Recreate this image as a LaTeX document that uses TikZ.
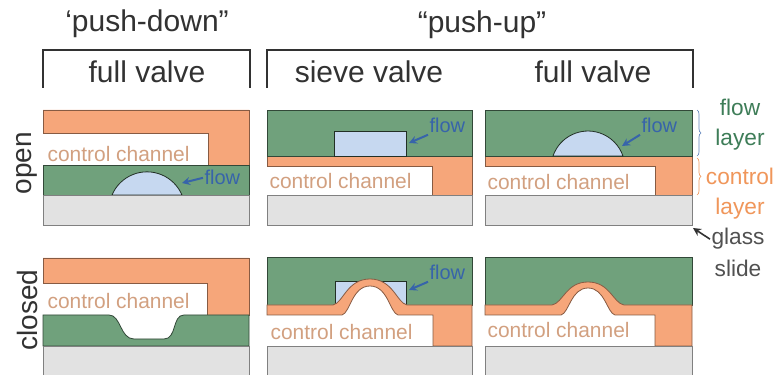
\documentclass[tikz,border=0pt]{standalone}
\usepackage{fontspec}
\setmainfont{Liberation Sans}
\usetikzlibrary{arrows.meta,decorations.pathreplacing}

\definecolor{flowgreen}{RGB}{112,161,124}
\definecolor{ctrlorange}{RGB}{246,166,122}
\definecolor{glassgray}{RGB}{226,226,226}
\definecolor{fluidblue}{RGB}{198,216,240}
\definecolor{flowtext}{RGB}{55,100,170}
\definecolor{chantext}{RGB}{210,160,128}
\definecolor{layergreen}{RGB}{62,125,88}
\definecolor{layerorange}{RGB}{240,150,90}
\definecolor{darktext}{RGB}{50,50,50}

\begin{document}
\begin{tikzpicture}[x=0.75pt,y=0.75pt,
  every node/.style={inner sep=1pt},
  flowlyr/.style={fill=flowgreen,draw=flowgreen!45!black,line width=0.6pt},
  ctrllyr/.style={fill=ctrlorange,draw=ctrlorange!55!black,line width=0.6pt},
  glasslyr/.style={fill=glassgray,draw=black!50,line width=0.6pt},
  fluid/.style={fill=fluidblue,draw=flowgreen!30!black,line width=0.6pt},
  head/.style={font=\fontsize{22.5}{27}\selectfont,text=darktext,anchor=base},
  state/.style={font=\fontsize{21}{25}\selectfont,text=darktext,rotate=90},
  chan/.style={font=\fontsize{15.7}{19}\selectfont,text=chantext,anchor=west},
  flowtag/.style={font=\fontsize{15}{18}\selectfont,text=flowtext,anchor=base west},
  flowarrow/.style={->,draw=flowtext,line width=1.5pt},
  bracket/.style={draw=darktext,line width=1.5pt},
  side/.style={font=\fontsize{17}{22.5}\selectfont,align=center},
  >={Stealth[length=6pt,width=6pt]}]
\useasboundingbox (0,0) rectangle (780,374);
\fill[white] (0,0) rectangle (780,374);

% headings and brackets
\node[head] (pd) at (147,342) {‘push-down”};
\node[head] (pu) at (482,341) {“push-up”};
\node[head] (fv1) at (147,291) {full valve};
\node[head] (sv) at (369,291) {sieve valve};
\node[head] (fv2) at (593,291) {full valve};
\draw[bracket] (43,286) -- (43,324) -- (250,324) -- (250,286);
\draw[bracket] (267,286) -- (267,324) -- (693,324) -- (693,286);

\node[state] (open) at (27,211) {open};
\node[state] (closed) at (27,64) {closed};

% open row: push-down full valve
\draw[ctrllyr] (43,264) -- (249,264) -- (249,209) -- (208,209) -- (208,241) -- (43,241) -- cycle;
\draw[flowlyr] (43,179) rectangle (249,209);
\draw[fluid] (112,179) arc[start angle=157,end angle=23,radius=38] -- cycle;
\draw[glasslyr] (43,149) rectangle (249,179);

% open row: push-up sieve valve
\draw[ctrllyr] (267,218) -- (472,218) -- (472,179) -- (432,179) -- (432,208) -- (267,208) -- cycle;
\draw[flowlyr] (267,218) rectangle (472,264);
\draw[fluid] (334,218) rectangle (406,243);
\draw[glasslyr] (267,149) rectangle (472,179);

% open row: push-up full valve
\draw[ctrllyr] (485,218) -- (692,218) -- (692,179) -- (655,179) -- (655,208) -- (485,208) -- cycle;
\draw[flowlyr] (485,218) rectangle (692,264);
\draw[fluid] (553,218) arc[start angle=161,end angle=19,radius=37] -- cycle;
\draw[glasslyr] (485,149) rectangle (692,179);

% closed row: push-down full valve
\draw[ctrllyr] (43,116) -- (249,116) -- (249,59) -- (207,59) -- (207,91) -- (43,91) -- cycle;
\draw[flowlyr] (43,28) -- (43,59) -- (109,59) .. controls (121,59) and (120,35) .. (134,35)
  -- (164,35) .. controls (177,35) and (172,59) .. (184,59) -- (249,59) -- (249,28) -- cycle;
\draw[glasslyr] (43,-2) rectangle (249,28);

% closed row: push-up sieve valve
\draw[flowlyr] (267,69) rectangle (472,117);
\draw[fluid] (335,69) rectangle (406,93);
\fill[white] (342,59) .. controls (350,61) and (352,88) .. (370,88) .. controls (388,88) and (390,61) .. (398,59) -- cycle;
\draw[ctrllyr] (267,69) -- (333,69) .. controls (343,71) and (347,95) .. (370,95) .. controls (393,95) and (397,71) .. (407,69)
  -- (472,69) -- (472,28) -- (433,28) -- (433,59) -- (398,59) .. controls (390,61) and (388,88) .. (370,88)
  .. controls (352,88) and (350,61) .. (342,59) -- (267,59) -- cycle;
\draw[glasslyr] (267,-2) rectangle (472,28);

% closed row: push-up full valve
\draw[flowlyr] (485,69) rectangle (692,117);
\fill[white] (561,59) .. controls (569,61) and (571,86) .. (588,86) .. controls (605,86) and (607,61) .. (615,59) -- cycle;
\draw[ctrllyr] (485,69) -- (552,69) .. controls (563,71) and (566,92) .. (588,92) .. controls (610,92) and (613,71) .. (624,69)
  -- (692,69) -- (692,28) -- (655,28) -- (655,59) -- (615,59) .. controls (607,61) and (605,86) .. (588,86)
  .. controls (571,86) and (569,61) .. (561,59) -- (485,59) -- cycle;
\draw[glasslyr] (485,-2) rectangle (692,28);

% channel labels
\node[chan] (cc1) at (46,220) {control channel};
\node[chan] (cc2) at (268,193) {control channel};
\node[chan] (cc3) at (486,192) {control channel};
\node[chan] (cc4) at (46,73) {control channel};
\node[chan] (cc5) at (269,42) {control channel};
\node[chan] (cc6) at (486,44) {control channel};

% flow labels and arrows
\node[flowtag] (fl1) at (203,189) {flow};
\node[flowtag] (fl2) at (428,241) {flow};
\node[flowtag] (fl3) at (640,241) {flow};
\node[flowtag] (fl5) at (428,94) {flow};
\coordinate (t1) at (182,191);
\coordinate (t2) at (409,231);
\coordinate (t3) at (622,228);
\coordinate (t5) at (409,84);
\draw[flowarrow] (fl1.west) -- (t1);
\draw[flowarrow] (fl2.south west) -- (t2);
\draw[flowarrow] (fl3.south west) -- (t3);
\draw[flowarrow] (fl5.south west) -- (t5);

% layer legend
\draw[decorate,decoration={brace,amplitude=3pt},draw=flowtext!80,line width=0.5pt] (697,264) -- (697,218);
\draw[decorate,decoration={brace,amplitude=3pt},draw=layerorange,line width=0.5pt] (697,216) -- (697,179);
\node[side,text=layergreen] (flowlab) at (740,249) {flow\\layer};
\node[side,text=layerorange] (ctrllab) at (740,180) {control\\layer};
\node[side,text=darktext!85,anchor=base] (glass) at (738,129) {glass};
\node[side,text=darktext!85,anchor=base] (slide) at (738,97) {slide};
\coordinate (gs) at (693,146);
\draw[->,draw=darktext,line width=1.2pt] (glass.west) -- (gs);
\end{tikzpicture}
\end{document}
